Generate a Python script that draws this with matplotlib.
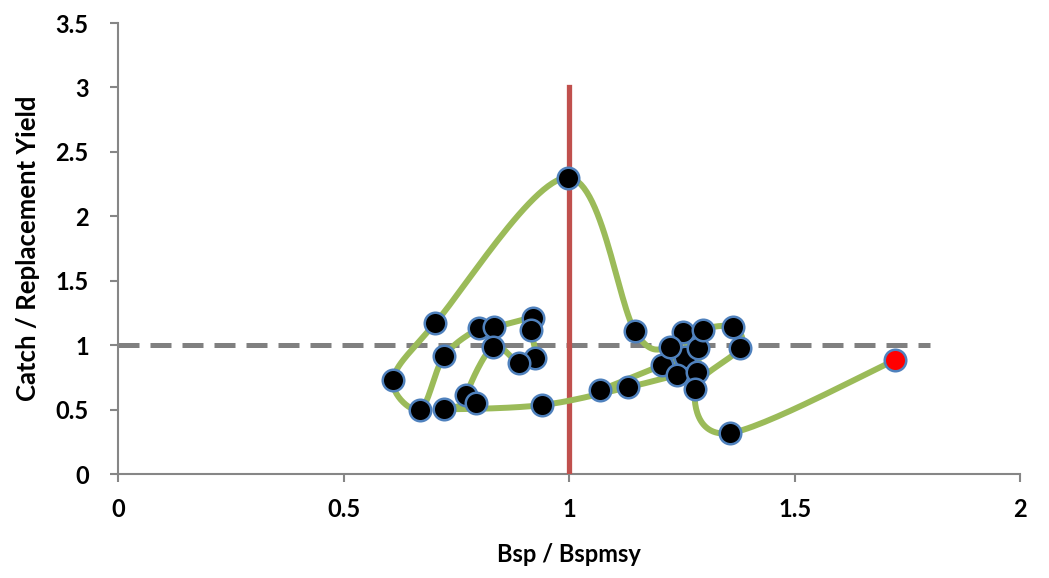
import numpy as np
import matplotlib
matplotlib.use("Agg")
import matplotlib.pyplot as plt

plt.rcParams['font.family'] = ['Lato', 'DejaVu Sans']

# Data: Bsp/Bspmsy (x) and Catch/Replacement Yield (y), in time order
bsp_ratio = [1.069, 1.206, 1.257, 1.253, 1.224, 1.146, 0.998, 0.703, 0.61, 0.67,
             0.723, 0.80, 0.834, 0.92, 0.916, 0.925, 0.89, 0.831, 0.772, 0.794,
             0.723, 0.94, 1.131, 1.239, 1.284, 1.286, 1.297, 1.363, 1.379, 1.279,
             1.357, 1.723]
catch_ratio = [0.65, 0.845, 0.907, 1.10, 0.985, 1.11, 2.30, 1.17, 0.73, 0.50,
               0.915, 1.13, 1.14, 1.21, 1.12, 0.90, 0.86, 0.985, 0.61, 0.55,
               0.504, 0.535, 0.674, 0.767, 0.79, 0.977, 1.116, 1.14, 0.977, 0.659,
               0.318, 0.884]

ref_x = 1.0          # Bsp = Bspmsy
ref_x_ymax = 3.0
ref_y = 1.0          # Catch = Replacement yield
ref_y_xmax = 1.8

x_ticks = [0, 0.5, 1, 1.5, 2]
x_ticklabels = ['0', '0.5', '1', '1.5', '2']
y_ticks = [0, 0.5, 1, 1.5, 2, 2.5, 3, 3.5]
y_ticklabels = ['0', '0.5', '1', '1.5', '2', '2.5', '3', '3.5']


def smooth(xs, ys, sx, sy, n=30):
    """Excel-like smoothed line (Catmull-Rom / Bezier) computed in screen scale."""
    px = np.asarray(xs) * sx
    py = np.asarray(ys) * sy
    P = np.column_stack([px, py])
    m = len(P)
    out = []
    for i in range(m - 1):
        p0 = P[i - 1] if i > 0 else P[i]
        p1 = P[i]
        p2 = P[i + 1]
        p3 = P[i + 2] if i + 2 < m else P[i + 1]
        c1 = p1 + (p2 - p0) / 6.0
        c2 = p2 - (p3 - p1) / 6.0
        t = np.linspace(0, 1, n)[:, None]
        seg = ((1 - t) ** 3) * p1 + 3 * ((1 - t) ** 2) * t * c1 + 3 * (1 - t) * t ** 2 * c2 + t ** 3 * p2
        out.append(seg if i == 0 else seg[1:])
    S = np.vstack(out)
    return S[:, 0] / sx, S[:, 1] / sy


fig = plt.figure(figsize=(10.49, 5.78), dpi=100)
ax = fig.add_axes([0.1125, 0.1799, 0.86, 0.7803])
ax.set_xlim(0, 2)
ax.set_ylim(0, 3.5)

# screen scale (pixels per data unit)
sx, sy = 451.0, 129.0
lx, ly = smooth(bsp_ratio, catch_ratio, sx, sy)

ax.plot([0, ref_y_xmax], [ref_y, ref_y], color='#808080', lw=3.6,
        dashes=(4.2, 2.2), zorder=2)
ax.plot([ref_x, ref_x], [0, ref_x_ymax], color='#C0504D', lw=3.8, zorder=3)
ax.plot(lx, ly, color='#9BBB59', lw=4.3, zorder=4, solid_capstyle='round')
ax.plot(bsp_ratio[:-1], catch_ratio[:-1], 'o', ms=15.5, mfc='black', mec='#4F81BD',
        mew=1.8, zorder=5, linestyle='none')
ax.plot(bsp_ratio[-1:], catch_ratio[-1:], 'o', ms=15.5, mfc='red', mec='#4F81BD',
        mew=1.8, zorder=6, linestyle='none')

for s in ['top', 'right']:
    ax.spines[s].set_visible(False)
for s in ['left', 'bottom']:
    ax.spines[s].set_color('#868686')
    ax.spines[s].set_linewidth(1.5)

ax.set_xticks(x_ticks)
ax.set_xticklabels(x_ticklabels)
ax.set_yticks(y_ticks)
ax.set_yticklabels(y_ticklabels)
ax.tick_params(axis='both', colors='#868686', length=6, width=1.5, direction='out',
               labelsize=17, labelcolor='black')
ax.tick_params(axis='y', pad=15)
ax.tick_params(axis='x', pad=11)
for lab in ax.get_xticklabels() + ax.get_yticklabels():
    lab.set_fontweight('bold')

ax.set_xlabel('Bsp / Bspmsy', fontsize=17, fontweight='bold', labelpad=16)
ax.set_ylabel('Catch / Replacement Yield', fontsize=18.5, fontweight='bold', labelpad=11)

fig.savefig('out.png', dpi=100)
